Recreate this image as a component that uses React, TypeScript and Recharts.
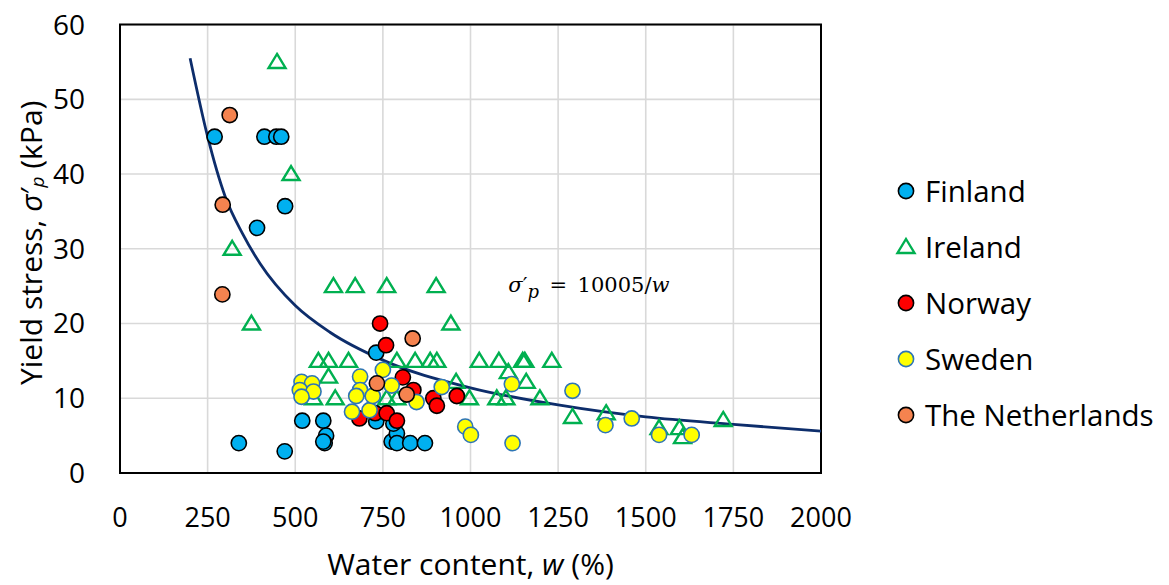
import React from 'react';
import {
  ComposedChart,
  Scatter,
  Line,
  XAxis,
  YAxis,
  CartesianGrid,
  ReferenceArea,
  ReferenceDot,
} from 'recharts';

const xTicks = [0, 250, 500, 750, 1000, 1250, 1500, 1750, 2000];
const yTicks = [0, 10, 20, 30, 40, 50, 60];

const finlandW = [270, 412, 446, 460, 471, 391, 339, 470, 520, 580, 588, 584, 580, 731, 731, 775, 790, 790, 780, 828, 870];
const finlandS = [45, 45, 45, 45, 35.7, 32.8, 4, 2.9, 7, 7, 5, 4, 4.2, 16.1, 6.9, 4.2, 5.3, 4, 6.6, 4, 4];

const irelandW = [448, 488, 320, 375, 609, 671, 761, 902, 944, 566, 595, 652, 790, 842, 885, 904, 1025, 1081, 1149, 1155, 1232, 595, 614, 552, 761, 790, 959, 997, 1075, 1101, 1108, 1159, 1198, 1291, 1387, 1538, 1596, 1605, 1721];
const irelandS = [55, 40, 30, 20, 25, 25, 25, 25, 20, 15, 15, 15, 15, 15, 15, 15, 15, 15, 15, 15, 15, 12.9, 10, 10, 10, 10, 12.2, 10, 10, 10, 13.5, 12.2, 10, 7.5, 8, 6, 6, 4.8, 7.1];

const norwayW = [742, 759, 807, 837, 894, 904, 961, 683, 728, 761, 790];
const norwayS = [20, 17.1, 12.8, 11.1, 10, 9, 10.3, 7.3, 8, 8, 7];

const swedenW = [518, 548, 513, 552, 518, 685, 685, 674, 662, 712, 721, 750, 775, 846, 918, 985, 1001, 1118, 1291, 1120, 1385, 1460, 1538, 1631];
const swedenS = [12.2, 12, 11.1, 10.9, 10.2, 12.9, 11.1, 10.3, 8.2, 8.4, 10.3, 13.8, 11.7, 9.5, 11.5, 6.2, 5.1, 11.9, 11.0, 4.0, 6.4, 7.3, 5.1, 5.1];

const netherlandsW = [313, 293, 292, 733, 835, 818];
const netherlandsS = [47.9, 35.9, 23.9, 12, 18, 10.5];

const curveW = [200, 250, 300, 350, 400, 500, 600, 750, 1000, 1250, 1500, 1750, 2000];
const curveS = [55.5, 45.0, 37.0, 32.0, 28.0, 22.4, 18.8, 15.1, 11.4, 9.1, 7.5, 6.5, 5.6];

const toPoints = (w: number[], s: number[]) => w.map((x, i) => ({ w: x, s: s[i] }));

const finlandData = toPoints(finlandW, finlandS);
const irelandData = toPoints(irelandW, irelandS);
const norwayData = toPoints(norwayW, norwayS);
const swedenData = toPoints(swedenW, swedenS);
const netherlandsData = toPoints(netherlandsW, netherlandsS);
const curveData = toPoints(curveW, curveS);

const FONT = '"Open Sans", "Noto Sans", sans-serif';
const MATH_FONT = '"DejaVu Serif", "Liberation Serif", serif';

const makeCircle = (fill: string, stroke: string) => (props: any) => {
  const { cx, cy } = props;
  if (cx == null || cy == null) return <g />;
  return <circle cx={cx} cy={cy} r={7.6} fill={fill} stroke={stroke} strokeWidth={1.6} />;
};

const triangle = (props: any) => {
  const { cx, cy } = props;
  if (cx == null || cy == null) return <g />;
  const pts = `${cx},${cy - 8} ${cx + 8.5},${cy + 6} ${cx - 8.5},${cy + 6}`;
  return <polygon points={pts} fill="none" stroke="#00B050" strokeWidth={2.4} strokeLinejoin="miter" />;
};

const XTitle = (props: any) => {
  const vb = props.viewBox || {};
  const cx = vb.x + vb.width / 2;
  const y = vb.y + vb.height + 42;
  return (
    <text x={cx} y={y} textAnchor="middle" fontFamily={FONT} fontSize={30} fill="#000">
      <tspan>Water content, </tspan>
      <tspan fontStyle="italic">w</tspan>
      <tspan> (%)</tspan>
    </text>
  );
};

const YTitle = (props: any) => {
  const vb = props.viewBox || {};
  const cx = 30;
  const cy = vb.y + vb.height / 2 - 6;
  return (
    <text
      x={cx}
      y={cy}
      transform={`rotate(-90 ${cx} ${cy})`}
      textAnchor="middle"
      dominantBaseline="central"
      fontFamily={FONT}
      fontSize={30}
      fill="#000"
    >
      <tspan>Yield stress, </tspan>
      <tspan fontStyle="italic">σ</tspan>
      <tspan>′</tspan>
      <tspan fontStyle="italic" fontSize={19} dy={7}>p</tspan>
      <tspan dy={-7}> (kPa)</tspan>
    </text>
  );
};

const EquationLabel = (props: any) => {
  const { cx, cy } = props;
  if (cx == null || cy == null) return <g />;
  return (
    <text x={cx} y={cy} fontFamily={MATH_FONT} fontSize={21} fill="#000">
      <tspan fontStyle="italic">σ</tspan>
      <tspan>′</tspan>
      <tspan fontStyle="italic" fontSize={18} dy={6}>p</tspan>
      <tspan dy={-6}>{'\u2002=\u200210005/'}</tspan>
      <tspan fontStyle="italic">w</tspan>
    </text>
  );
};

const legendItems = [
  { name: 'Finland', kind: 'circle', fill: '#00B0F0', stroke: '#000' },
  { name: 'Ireland', kind: 'triangle', fill: 'none', stroke: '#00B050' },
  { name: 'Norway', kind: 'circle', fill: '#FF0000', stroke: '#000' },
  { name: 'Sweden', kind: 'circle', fill: '#FFFF00', stroke: '#2E75B6' },
  { name: 'The Netherlands', kind: 'circle', fill: '#F5834F', stroke: '#000' },
];

const LegendOverlay = () => {
  const top = 191;
  const step = 56;
  const mx = 906;
  return (
    <svg
      width={1169}
      height={585}
      style={{ position: 'absolute', left: 0, top: 0, pointerEvents: 'none' }}
    >
      {legendItems.map((it, i) => {
        const y = top + i * step;
        return (
          <g key={it.name}>
            {it.kind === 'circle' ? (
              <circle cx={mx} cy={y} r={7.6} fill={it.fill} stroke={it.stroke} strokeWidth={1.6} />
            ) : (
              <polygon
                points={`${mx},${y - 8} ${mx + 8.5},${y + 6} ${mx - 8.5},${y + 6}`}
                fill="none"
                stroke={it.stroke}
                strokeWidth={2.4}
              />
            )}
            <text x={925} y={y + 10.5} fontFamily={FONT} fontSize={29.5} fill="#000">
              {it.name}
            </text>
          </g>
        );
      })}
    </svg>
  );
};

export default function App() {
  return (
    <div style={{ position: 'absolute', left: 0, top: 0, width: 1169, height: 585, background: '#fff' }}>
      <ComposedChart
        width={1169}
        height={585}
        margin={{ top: 24.6, right: 348, bottom: 52, left: 30 }}
      >
        <CartesianGrid stroke="#D9D9D9" strokeWidth={1.6} />
        <XAxis
          type="number"
          dataKey="w"
          domain={[0, 2000]}
          ticks={xTicks}
          interval={0}
          allowDataOverflow
          axisLine={false}
          tickLine={false}
          tickSize={0}
          tickMargin={35}
          height={60}
          tick={{ fontSize: 27, fill: '#000', fontFamily: FONT }}
          label={{ content: XTitle }}
        />
        <YAxis
          type="number"
          dataKey="s"
          domain={[0, 60]}
          ticks={yTicks}
          interval={0}
          allowDataOverflow
          axisLine={false}
          tickLine={false}
          tickSize={0}
          tickMargin={35}
          width={90}
          tick={{ fontSize: 28, fill: '#000', fontFamily: FONT }}
          label={{ content: YTitle }}
        />
        <ReferenceArea x1={0} x2={2000} y1={0} y2={60} fill="none" stroke="#000" strokeWidth={2} ifOverflow="visible" />
        <Scatter name="Finland" data={finlandData} dataKey="s" shape={makeCircle('#00B0F0', '#000')} isAnimationActive={false} />
        <Scatter name="Ireland" data={irelandData} dataKey="s" shape={triangle} isAnimationActive={false} />
        <Scatter name="Norway" data={norwayData} dataKey="s" shape={makeCircle('#FF0000', '#000')} isAnimationActive={false} />
        <Scatter name="Sweden" data={swedenData} dataKey="s" shape={makeCircle('#FFFF00', '#2E75B6')} isAnimationActive={false} />
        <Scatter name="The Netherlands" data={netherlandsData} dataKey="s" shape={makeCircle('#F5834F', '#000')} isAnimationActive={false} />
        <Line
          data={curveData}
          dataKey="s"
          type="monotone"
          stroke="#0D2D6B"
          strokeWidth={2.8}
          dot={false}
          activeDot={false}
          isAnimationActive={false}
        />
        <ReferenceDot x={1108} y={24.2} r={0} shape={EquationLabel} ifOverflow="visible" />
      </ComposedChart>
      <LegendOverlay />
    </div>
  );
}
